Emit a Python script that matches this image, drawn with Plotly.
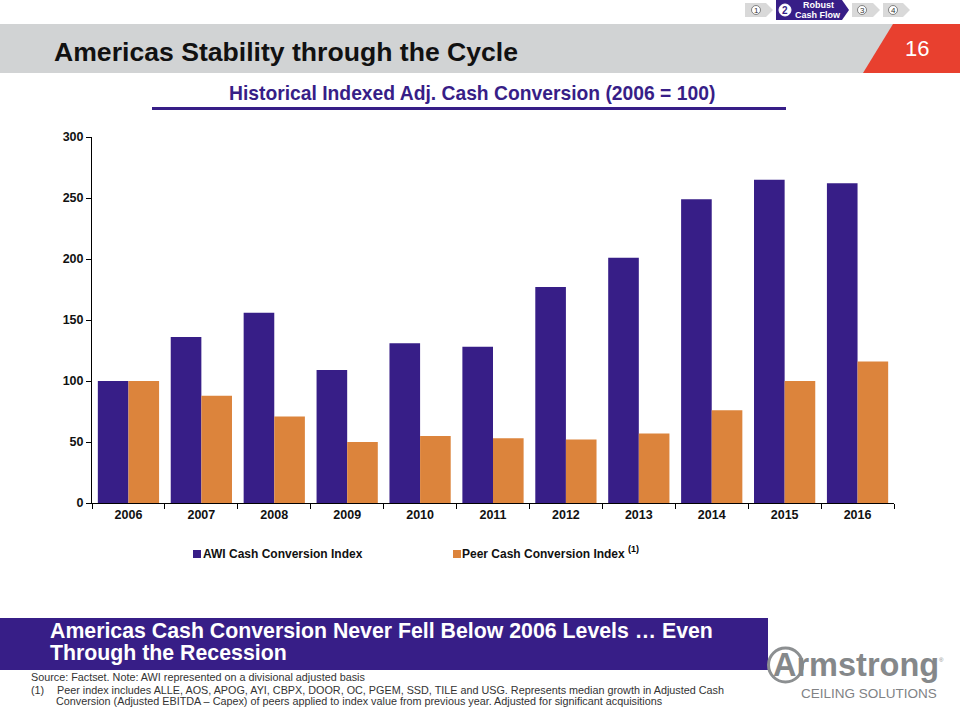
import plotly.graph_objects as go

years = ["2006","2007","2008","2009","2010","2011","2012","2013","2014","2015","2016"]
awi_index = [100,136,156,109,131,128,177,201,249,265,262]
peer_index = [100,88,71,50,55,53,52,57,76,100,116]
y_ticks = [0,50,100,150,200,250,300]
awi_name = "AWI Cash Conversion Index"
peer_name = "Peer Cash Conversion Index"

PURPLE = "#371E87"
ORANGE = "#DC843C"
GRAY = "#D1D3D4"
RED = "#E8402F"
FONT = "Liberation Sans"
W, H = 960, 720
L, R, T, B = 92, 894, 137, 503

def px(x): return (x - L) / (R - L)
def py(y): return (B - y) / (B - T)

shapes, ann = [], []

def poly(points, color, line=None):
    d = "M " + " L ".join(f"{px(x):.5f},{py(y):.5f}" for x, y in points) + " Z"
    shapes.append(dict(type="path", xref="paper", yref="paper", path=d, fillcolor=color,
                       line=dict(width=0) if line is None else line, layer="below"))

def rect(x0, y0, x1, y1, color):
    poly([(x0, y0), (x1, y0), (x1, y1), (x0, y1)], color)

def circle(cx, cy, r, fill, line_color, lw=1):
    shapes.append(dict(type="circle", xref="paper", yref="paper", x0=px(cx-r), x1=px(cx+r),
                       y0=py(cy+r), y1=py(cy-r), fillcolor=fill, line=dict(color=line_color, width=lw), layer="below"))

def text(x, y, s, size, color="#000000", bold=False, xa="left", ya="middle", family=FONT, align=None):
    if bold: s = f"<b>{s}</b>"
    ann.append(dict(xref="paper", yref="paper", x=px(x), y=py(y), text=s, showarrow=False,
                    xanchor=xa, yanchor=ya, align=align or xa, borderpad=0, borderwidth=0,
                    font=dict(family=family, size=size, color=color)))

# header
rect(0, 24, 960, 73, GRAY)
poly([(893, 24), (960, 24), (960, 73), (863, 73)], RED)
text(917, 49, "16", 22, "#FFFFFF", xa="center")
text(54, 52, "Americas Stability through the Cycle", 26.6, "#111111", bold=True)

# navigation
def chevron(x0, x1, color):
    poly([(x0, 3), (x1-7, 3), (x1, 10), (x1-7, 17), (x0, 17)], color)
chevron(745, 773, "#D9D9D9")
poly([(776, 0), (842, 0), (849, 10), (842, 20), (776, 20)], PURPLE)
chevron(852, 880, "#D9D9D9")
chevron(883, 910, "#D9D9D9")
for cx, lab in [(756, "1"), (862, "3"), (893, "4")]:
    circle(cx, 10, 4.5, "#FFFFFF", "#555555", 0.7)
    text(cx, 10.5, lab, 8, "#333333", xa="center")
circle(785, 10, 6, "#FFFFFF", "#FFFFFF")
text(785, 10.5, "2", 10, PURPLE, bold=True, xa="center")
text(818, 4.5, "Robust", 9, "#FFFFFF", bold=True, xa="center")
text(818, 15, "Cash Flow", 9, "#FFFFFF", bold=True, xa="center")

# chart heading
text(472, 93, "Historical Indexed Adj. Cash Conversion (2006 = 100)", 19.3, PURPLE, bold=True, xa="center")
rect(152, 107, 786, 110, PURPLE)

# key
rect(193, 550, 201, 558, PURPLE)
text(203, 554, awi_name, 12, "#111111", bold=True)
rect(453, 550, 461, 558, ORANGE)
text(462, 554, peer_name, 12, "#111111", bold=True)
text(628, 549, "(1)", 9, "#000000", bold=True)

# call-out band
rect(0, 618, 768, 670, PURPLE)
text(50, 631, "Americas Cash Conversion Never Fell Below 2006 Levels … Even", 21.3, "#FFFFFF", bold=True)
text(50, 653, "Through the Recession", 21.3, "#FFFFFF", bold=True)

# footnotes
text(31, 677, "Source: Factset. Note: AWI represented on a divisional adjusted basis", 10.8, "#333333")
text(31, 690, "(1)", 10.8, "#333333")
text(57, 690, "Peer index includes ALLE, AOS, APOG, AYI, CBPX, DOOR, OC, PGEM, SSD, TILE and USG. Represents median growth in Adjusted Cash", 10.8, "#333333")
text(56, 701, "Conversion (Adjusted EBITDA – Capex) of peers applied to index value from previous year. Adjusted for significant acquisitions", 10.8, "#333333")

# logo
circle(785.5, 665, 17, "rgba(0,0,0,0)", "#8C8F91", 3)
text(773, 665, "Armstrong", 32.5, "#85888A", bold=True)
text(939, 660, "®", 6, "#85888A")
text(801, 693, "CEILING SOLUTIONS", 13.5, "#808285")

fig = go.Figure()
fig.add_bar(x=years, y=awi_index, name=awi_name, marker=dict(color=PURPLE, line=dict(width=0)))
fig.add_bar(x=years, y=peer_index, name=peer_name, marker=dict(color=ORANGE, line=dict(width=0)))

fig.update_layout(
    width=W, height=H, autosize=False, showlegend=False,
    margin=dict(l=L, r=W-R, t=T, b=H-B, pad=0),
    paper_bgcolor="#FFFFFF", plot_bgcolor="#FFFFFF",
    barmode="group", bargap=0.16, bargroupgap=0,
    font=dict(family=FONT, color="#000000", size=12),
    shapes=shapes, annotations=ann,
    xaxis=dict(type="category", showgrid=False, showline=True, linecolor="#000000", linewidth=1,
               ticks="outside", ticklen=5, tickcolor="#000000", tickson="boundaries",
               tickmode="array", tickvals=years, ticktext=[f"<b>{y}</b>" for y in years],
               tickfont=dict(family=FONT, size=12.5, color="#111111"), zeroline=False),
    yaxis=dict(range=[0, 300], tickmode="array", tickvals=y_ticks, ticktext=[f"<b>{v}</b>" for v in y_ticks],
               showgrid=False, showline=True, linecolor="#000000", linewidth=1,
               ticks="outside", ticklen=5, tickcolor="#000000",
               tickfont=dict(family=FONT, size=12.5, color="#111111"), zeroline=False),
)

fig.write_html("out.html", config={"displayModeBar": False},
               post_script="document.body.style.margin='0';document.body.style.overflow='hidden';")
